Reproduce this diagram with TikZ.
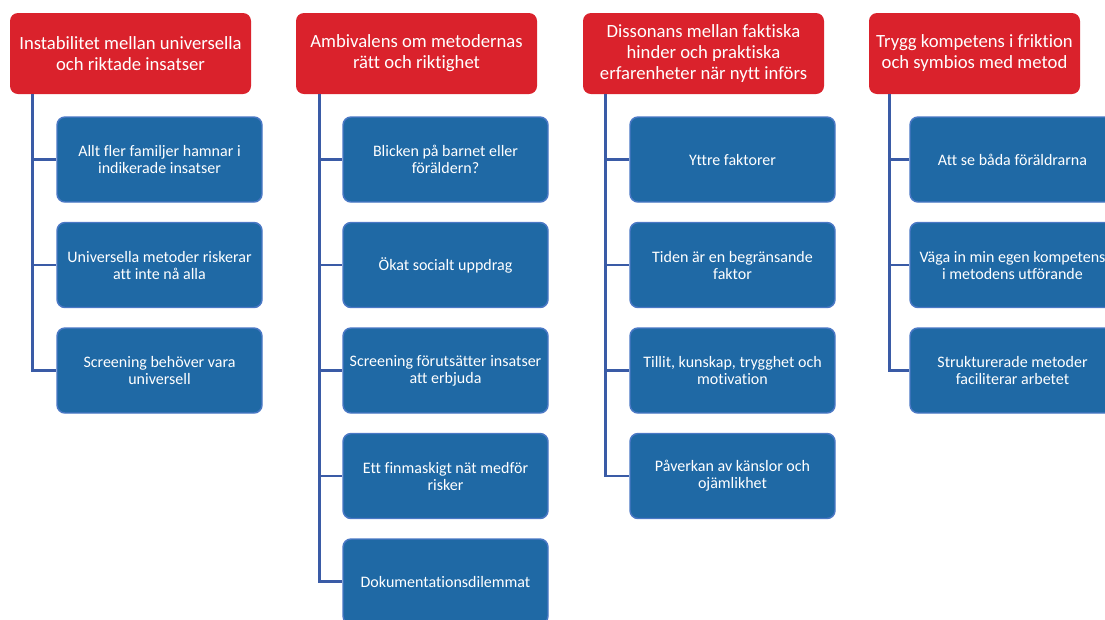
\documentclass[tikz,border=0pt]{standalone}
\usepackage{fontspec}
\setmainfont{Carlito}[Ligatures=NoCommon]
\definecolor{hdrred}{HTML}{DA222C}
\definecolor{itemblue}{HTML}{1F69A5}
\definecolor{itemedge}{HTML}{4A78C5}
\definecolor{spineblue}{HTML}{3A5BA6}

\tikzset{
  header/.style={fill=hdrred, text=white, rounded corners=6pt, inner sep=2pt,
    minimum width=180.75pt, minimum height=60.75pt, align=center,
    font=\fontsize{14}{15.75}\selectfont},
  item/.style={fill=itemblue, draw=itemedge, line width=1.1pt, text=white,
    rounded corners=6pt, minimum width=153.75pt, minimum height=63.75pt,
    align=center, font=\fontsize{12}{12.75}\selectfont},
  link/.style={draw=spineblue, line width=2.2pt}
}

\begin{document}
\begin{tikzpicture}[x=0.75pt, y=-0.75pt]
  \useasboundingbox (0,0) rectangle (1105,619);
  \clip (0,0) rectangle (1105,619);

  % headers
  \node[header] (h1) at (130.5,53.5) {Instabilitet mellan universella\\och riktade insatser};
  \node[header] (h2) at (416.5,53.5) {Ambivalens om metodernas\\rätt och riktighet};
  \node[header] (h3) at (703.5,53.5) {Dissonans mellan faktiska\\hinder och praktiska\\erfarenheter när nytt införs};
  \node[header, minimum width=158.25pt] (h4) at (974.5,53.5) {Trygg kompetens i friktion\\och symbios med metod};

  % spines
  \coordinate (s1) at ([xshift=17.25pt]h1.south west);
  \coordinate (s2) at ([xshift=18pt]h2.south west);
  \coordinate (s3) at ([xshift=17.25pt]h3.south west);
  \coordinate (s4) at ([xshift=15.75pt]h4.south west);

  % column 1
  \foreach \t [count=\j] in {{Allt fler familjer hamnar i\\indikerade insatser},
      {Universella metoder riskerar\\att inte nå alla},
      {Screening behöver vara\\universell}} {
    \node[item] (c1\j) at (159.5,{159.5+105.5*(\j-1)}) {\t};
    \draw[link] (s1) |- (c1\j.west);
  }

  % column 2
  \foreach \t [count=\j] in {{Blicken på barnet eller\\föräldern?},
      {Ökat socialt uppdrag},
      {Screening förutsätter insatser\\att erbjuda},
      {Ett finmaskigt nät medför\\risker},
      {Dokumentationsdilemmat}} {
    \node[item] (c2\j) at (445.5,{159.5+105.5*(\j-1)}) {\t};
    \draw[link] (s2) |- (c2\j.west);
  }

  % column 3
  \foreach \t [count=\j] in {{Yttre faktorer},
      {Tiden är en begränsande\\faktor},
      {Tillit, kunskap, trygghet och\\motivation},
      {Påverkan av känslor och\\ojämlikhet}} {
    \node[item] (c3\j) at (732.5,{159.5+105.5*(\j-1)}) {\t};
    \draw[link] (s3) |- (c3\j.west);
  }

  % column 4
  \foreach \t [count=\j] in {{Att se båda föräldrarna},
      {Väga in min egen kompetens\\i metodens utförande},
      {Strukturerade metoder\\faciliterar arbetet}} {
    \node[item] (c4\j) at (1012.5,{159.5+105.5*(\j-1)}) {\t};
    \draw[link] (s4) |- (c4\j.west);
  }
\end{tikzpicture}
\end{document}
